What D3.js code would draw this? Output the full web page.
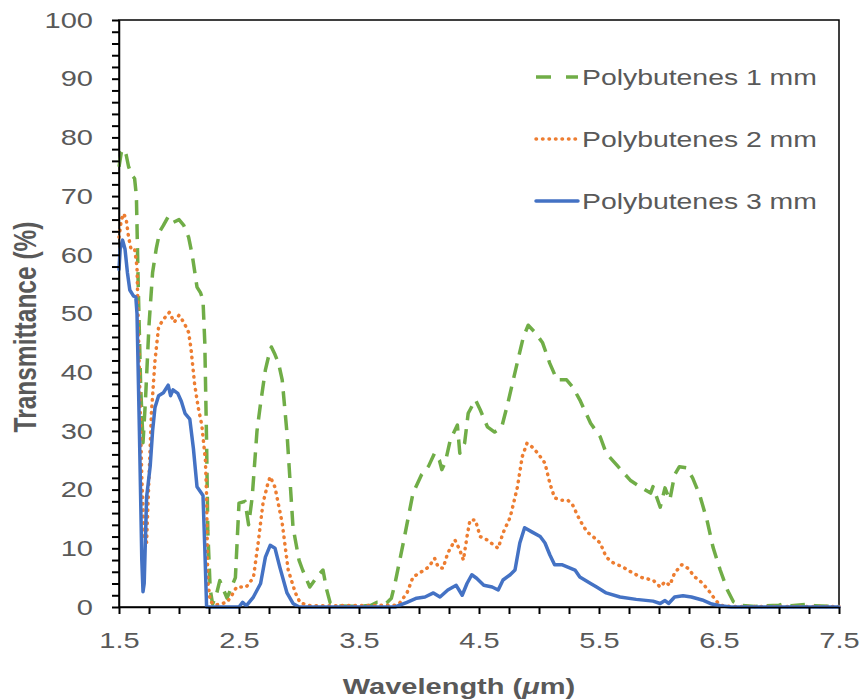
<!DOCTYPE html>
<html>
<head>
<meta charset="utf-8">
<script src="https://cdn.jsdelivr.net/npm/d3@7"></script>
<style>
  body { margin: 0; background: #fff; }
  text { font-family: "Liberation Sans", Arial, sans-serif; fill: #595959; }
  .tick line { stroke: #000; stroke-width: 2px; }
</style>
</head>
<body>
<svg id="chart" width="862" height="700"></svg>
<script>
// Polybutenes 1 mm
const wl1 = [1.50,1.52,1.54,1.56,1.58,1.61,1.63,1.645,1.66,1.68,1.70,1.72,1.75,1.78,1.81,1.84,1.87,1.91,1.95,2.00,2.04,2.08,2.11,2.15,2.18,2.20,2.215,2.23,2.24,2.26,2.28,2.31,2.34,2.37,2.40,2.43,2.47,2.50,2.55,2.58,2.61,2.65,2.68,2.72,2.75,2.77,2.80,2.83,2.86,2.90,2.95,3.00,3.03,3.09,3.16,3.20,3.23,3.26,3.30,3.50,3.60,3.65,3.70,3.73,3.77,3.80,3.87,3.95,4.02,4.08,4.13,4.17,4.19,4.22,4.26,4.32,4.34,4.38,4.41,4.47,4.51,4.57,4.63,4.69,4.74,4.78,4.83,4.87,4.91,4.97,5.03,5.09,5.15,5.23,5.28,5.34,5.43,5.51,5.56,5.66,5.76,5.84,5.93,5.95,6.01,6.05,6.09,6.13,6.17,6.23,6.28,6.34,6.40,6.45,6.51,6.57,6.62,6.68,6.80,7.00,7.05,7.10,7.25,7.30,7.50];
const pb1 = [75,77.5,78,77,75,73.5,73,70,55,38,28,35,48,57,61,64,65,66.5,65.5,66,65,63,60,54.5,53.5,52.3,45,28,13,3,0.5,2,4.5,3,1.5,3,5,17.7,18,14,18.7,30,34.7,40.4,43,44.3,43,41.5,38.7,29.6,13.6,8,6.3,3.4,5.4,6.3,3,0.7,0.2,0.1,0.3,0.8,0.8,0.7,1.5,4,11,19.4,22.5,24,26.2,25,23.4,24.7,28.4,31,26.2,27.9,33,35.3,33.6,30.7,29.8,30.7,34.7,38.2,42.6,46,48,46.7,45,41.5,38.7,38.7,37.5,35.3,31.3,29,26.2,23.9,21.6,20.5,19.4,20.5,17,20.3,18.2,22.5,23.9,23.7,22,19,14.8,10.2,6.3,2.9,0.9,0.3,0.1,0.3,0.6,0.2,0.5,0.2,0.1];

// Polybutenes 2 mm
const wl2 = [1.50,1.52,1.54,1.56,1.58,1.60,1.63,1.65,1.67,1.69,1.71,1.73,1.75,1.77,1.80,1.83,1.87,1.92,1.96,2.00,2.04,2.08,2.10,2.13,2.16,2.19,2.22,2.23,2.24,2.26,2.30,2.40,2.44,2.48,2.56,2.62,2.66,2.70,2.74,2.76,2.80,2.86,2.91,2.97,3.01,3.10,3.80,3.84,3.90,3.95,4.02,4.08,4.13,4.16,4.20,4.24,4.30,4.34,4.37,4.40,4.425,4.47,4.51,4.57,4.62,4.66,4.70,4.76,4.82,4.86,4.90,4.94,4.99,5.05,5.09,5.13,5.19,5.24,5.28,5.34,5.40,5.45,5.51,5.56,5.62,5.70,5.78,5.87,5.95,6.01,6.05,6.09,6.13,6.19,6.24,6.30,6.36,6.41,6.47,6.51,6.60,7.50];
const pb2 = [63,66,67,66,63,61,61,58,40,22,12,11,22,33,42,47.7,49,50.2,48.5,49.7,48.5,46.8,44,38,34,31,25,19,4.5,1,0.3,0.8,2,3.4,3.4,5,11,17.7,21,22.2,20.4,14.3,6.3,2.4,0.7,0.2,0.3,0.7,2.4,5.1,6,6.8,8.3,6.8,6.6,9.2,11.4,9.7,8,12,14.8,14.8,12,11.4,10.6,10,12.6,15.3,20.4,25.6,27.9,27.3,26.2,24.5,21.1,18.6,18.2,18.2,17.4,14.8,12.8,12,10.9,8.5,7.5,6.8,5.8,4.9,4.6,3.4,4.3,3.7,5.8,7.2,6.6,5.1,4.1,2.9,1.2,0.3,0.1,0.1];

// Polybutenes 3 mm
const wl3 = [1.50,1.51,1.53,1.55,1.57,1.59,1.62,1.64,1.65,1.67,1.69,1.70,1.71,1.73,1.76,1.78,1.80,1.83,1.87,1.91,1.93,1.95,1.99,2.02,2.05,2.09,2.12,2.15,2.20,2.215,2.23,2.50,2.53,2.56,2.62,2.68,2.72,2.76,2.80,2.84,2.90,2.95,3.00,3.80,3.84,3.90,3.98,4.05,4.12,4.175,4.24,4.31,4.36,4.40,4.44,4.48,4.54,4.61,4.66,4.70,4.76,4.80,4.84,4.88,4.94,5.01,5.05,5.09,5.13,5.19,5.24,5.30,5.34,5.43,5.48,5.56,5.675,5.81,5.95,6.01,6.05,6.08,6.13,6.20,6.27,6.36,6.44,6.51,6.60,7.50];
const pb3 = [57.5,61,62.5,61,57,54,53,52.8,50,30,8,2.6,4,18.7,24,30,34,36,36.5,37.8,36,37,36.4,35,33,32,27,20.5,19,10,0,0,0.8,0.2,1.7,4,8.5,10.5,10,6.8,2.4,0.6,0,0,0.3,0.8,1.5,1.7,2.4,1.7,2.9,3.7,2,4,5.5,4.9,3.7,3.4,2.9,4.6,5.5,6.3,10.9,13.5,12.8,12,10.9,8.9,7.2,7.2,6.8,6.3,5.1,4,3.4,2.4,1.7,1.3,1,0.6,1.1,0.6,1.7,1.9,1.7,1.2,0.5,0.2,0,0];

const seriesNames = ["Polybutenes 1 mm", "Polybutenes 2 mm", "Polybutenes 3 mm"];
const xTicks = [1.5, 2.5, 3.5, 4.5, 5.5, 6.5, 7.5];
const yTicks = [0, 10, 20, 30, 40, 50, 60, 70, 80, 90, 100];

const SX = 1.29; // reference text is stretched horizontally

const svg = d3.select("#chart");
const margin = {left: 119, right: 839, top: 20, bottom: 607};

const x = d3.scaleLinear().domain([1.5, 7.5]).range([margin.left, margin.right]);
const y = d3.scaleLinear().domain([0, 100]).range([margin.bottom, margin.top]);

function stretch(sel) {
    sel.each(function () {
        const t = d3.select(this);
        const tx = +t.attr("x") || 0;
        const prev = t.attr("transform") || "";
        t.attr("transform", `${prev} translate(${tx},0) scale(${SX},1) translate(${-tx},0)`);
    });
}

// plot frame
svg.append("rect")
    .attr("x", margin.left).attr("y", margin.top)
    .attr("width", margin.right - margin.left).attr("height", margin.bottom - margin.top)
    .attr("fill", "none").attr("stroke", "#000").attr("stroke-width", 1.5);

const series = [
    {wl: wl1, v: pb1, color: "#70AD47", dash: "15 9", cap: "butt"},
    {wl: wl2, v: pb2, color: "#ED7D31", dash: "0.5 6", cap: "round"},
    {wl: wl3, v: pb3, color: "#4472C4", dash: null, cap: "round"},
];

const line = d3.line().x(d => x(d[0])).y(d => y(d[1]));

series.forEach(s => {
    const pts = s.wl.map((w, i) => [w, s.v[i]]);
    svg.append("path")
        .attr("d", line(pts))
        .attr("fill", "none")
        .attr("stroke", s.color)
        .attr("stroke-width", 3.5)
        .attr("stroke-linejoin", "round")
        .attr("stroke-linecap", s.cap)
        .attr("stroke-dasharray", s.dash);
});

// y axis
const yAxis = svg.append("g")
    .attr("transform", `translate(${margin.left},0)`)
    .call(d3.axisLeft(y)
        .tickValues(d3.range(0, 101, 2))
        .tickFormat(d => yTicks.includes(d) ? d : "")
        .tickSize(7).tickSizeOuter(0).tickPadding(19));
yAxis.select(".domain").attr("stroke", "#000").attr("stroke-width", 1.5);
yAxis.selectAll(".tick line").attr("x1", 0).attr("x2", -7);
yAxis.selectAll("text").attr("font-size", 22.5).attr("fill", "#595959");
stretch(yAxis.selectAll("text"));

// x axis
const xAxis = svg.append("g")
    .attr("transform", `translate(0,${margin.bottom})`)
    .call(d3.axisBottom(x)
        .tickValues(d3.range(0, 25).map(i => 1.5 + i * 0.25))
        .tickFormat(d => xTicks.some(t => Math.abs(t - d) < 1e-6) ? d3.format(".1f")(d) : "")
        .tickSize(7).tickSizeOuter(0).tickPadding(18));
xAxis.select(".domain").attr("stroke", "#000").attr("stroke-width", 1.5);
xAxis.selectAll(".tick line").attr("y1", 0).attr("y2", 7);
xAxis.selectAll("text").attr("font-size", 22.5).attr("fill", "#595959");
stretch(xAxis.selectAll("text"));

// x title
const xt = svg.append("text")
    .attr("x", 459)
    .attr("y", 694)
    .attr("text-anchor", "middle")
    .attr("font-size", 22.5)
    .attr("font-weight", "bold");
xt.append("tspan").text("Wavelength (");
xt.append("tspan").attr("font-style", "italic").text("\u03bc");
xt.append("tspan").text("m)");
stretch(xt);

// y title
svg.append("text")
    .attr("transform", `translate(36,327) scale(${SX},1) rotate(-90)`)
    .attr("text-anchor", "middle")
    .attr("font-size", 24.5)
    .attr("font-weight", "bold")
    .text("Transmittance (%)");

// legend
const legend = svg.append("g");
series.forEach((s, i) => {
    const ly = 77 + i * 62;
    legend.append("line")
        .attr("x1", 536).attr("x2", 578)
        .attr("y1", ly).attr("y2", ly)
        .attr("stroke", s.color)
        .attr("stroke-width", 3.5)
        .attr("stroke-linecap", s.cap)
        .attr("stroke-dasharray", i === 0 ? "15 15" : s.dash);
    const t = legend.append("text")
        .attr("x", 582)
        .attr("y", ly + 8)
        .attr("font-size", 22)
        .text(seriesNames[i]);
    stretch(t);
});
</script>
</body>
</html>
